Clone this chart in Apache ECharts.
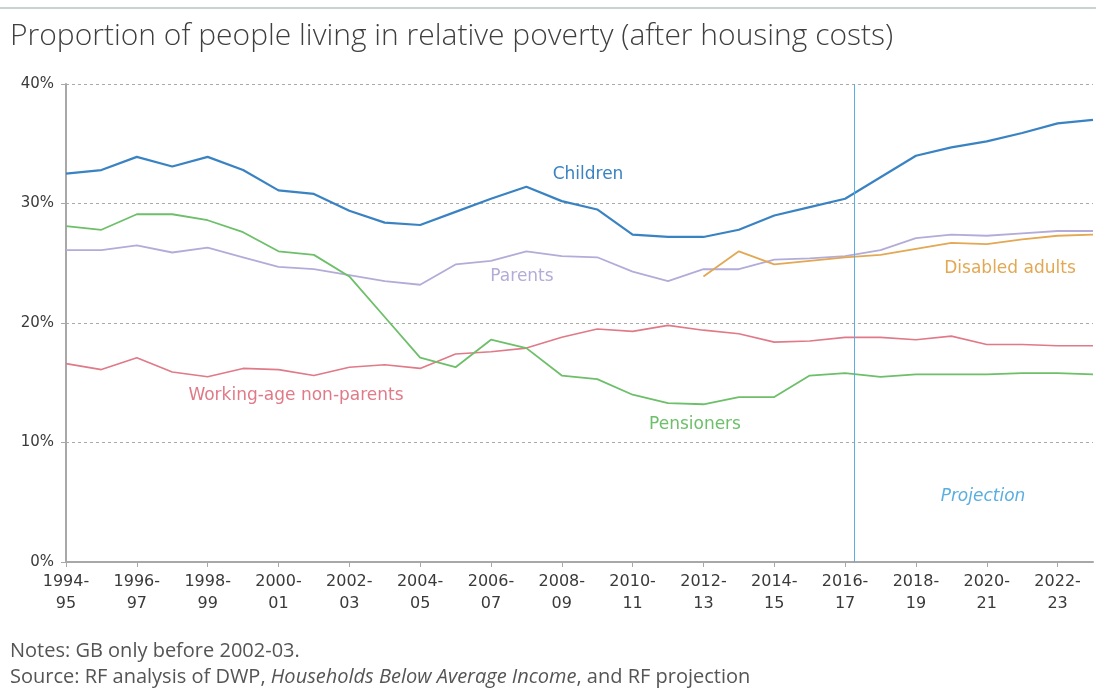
<!DOCTYPE html>
<html>
<head>
<meta charset="utf-8">
<script src="https://cdn.jsdelivr.net/npm/echarts@6/dist/echarts.min.js"></script>
<style>
html,body{margin:0;padding:0;background:#fff;}
#c{width:1096px;height:691px;}
</style>
</head>
<body>
<div id="c"></div>
<script>
const categories = ['1994-95','1995-96','1996-97','1997-98','1998-99','1999-00','2000-01','2001-02','2002-03','2003-04',
  '2004-05','2005-06','2006-07','2007-08','2008-09','2009-10','2010-11','2011-12','2012-13','2013-14',
  '2014-15','2015-16','2016-17','2017-18','2018-19','2019-20','2020-21','2021-22','2022-23','2023-24'];
const children = [32.5,32.8,33.9,33.1,33.9,32.8,31.1,30.8,29.4,28.4,28.2,29.3,30.4,31.4,30.2,29.5,27.4,27.2,27.2,27.8,29.0,29.7,30.4,32.2,34.0,34.7,35.2,35.9,36.7,37.0];
const parents = [26.1,26.1,26.5,25.9,26.3,25.5,24.7,24.5,24.0,23.5,23.2,24.9,25.2,26.0,25.6,25.5,24.3,23.5,24.5,24.5,25.3,25.4,25.6,26.1,27.1,27.4,27.3,27.5,27.7,27.7];
const pensioners = [28.1,27.8,29.1,29.1,28.6,27.6,26.0,25.7,23.9,20.5,17.1,16.3,18.6,17.9,15.6,15.3,14.0,13.3,13.2,13.8,13.8,15.6,15.8,15.5,15.7,15.7,15.7,15.8,15.8,15.7];
const workingAge = [16.6,16.1,17.1,15.9,15.5,16.2,16.1,15.6,16.3,16.5,16.2,17.4,17.6,17.9,18.8,19.5,19.3,19.8,19.4,19.1,18.4,18.5,18.8,18.8,18.6,18.9,18.2,18.2,18.1,18.1];
const disabled = [null,null,null,null,null,null,null,null,null,null,null,null,null,null,null,null,null,null,23.9,26.0,24.9,25.2,25.5,25.7,26.2,26.7,26.6,27.0,27.3,27.4];
const yTicks = [0,10,20,30,40];
const projectionStart = 22.25; // position on category index scale (between 2016-17 and 2017-18)

const colors = {
  children:'#3a83c3', parents:'#b3acd9', pensioners:'#6dbf69', working:'#e07a88', disabled:'#e2a853', proj:'#5aaee0'
};
const labelFont = 'DejaVu Sans';

const chart = echarts.init(document.getElementById('c'));
const lineSeries = (name, data, color, w) => ({
  name, type:'line', data, xAxisIndex:0, yAxisIndex:0, symbol:'none', smooth:false,
  lineStyle:{color, width:w}, itemStyle:{color}, connectNulls:false, z:3
});
const seriesLabel = (text, x, y, color, italic) => ({
  type:'text', x, y, z:10,
  style:{text, fill:color, fontFamily:labelFont, fontSize:17, fontStyle: italic ? 'italic' : 'normal', align:'center', verticalAlign:'middle'}
});
chart.setOption({
  animation:false,
  backgroundColor:'#fff',
  grid:{left:66, right:3, top:84, bottom:129, containLabel:false},
  xAxis:[{
    type:'category', data:categories, boundaryGap:false,
    axisLine:{show:true, lineStyle:{color:'#a8a8a8', width:2}},
    axisTick:{show:true, interval:1, length:5, lineStyle:{color:'#a8a8a8'}},
    axisLabel:{interval:1, color:'#3a3a3a', fontSize:16, fontFamily:labelFont, lineHeight:22, margin:9,
      formatter:v=>v.slice(0,5)+'\n'+v.slice(5)},
    splitLine:{show:false}
  },{
    type:'value', min:0, max:categories.length-1, show:false
  }],
  yAxis:{
    type:'value', min:yTicks[0], max:yTicks[yTicks.length-1], interval:10,
    axisLine:{show:true, lineStyle:{color:'#a8a8a8', width:2}},
    axisTick:{show:true, length:5, lineStyle:{color:'#a8a8a8'}},
    axisLabel:{formatter:'{value}%', color:'#3a3a3a', fontSize:15, fontFamily:labelFont, margin:12},
    splitLine:{show:true, lineStyle:{color:'#aaaaaa', type:[3,3], width:1}}
  },
  series:[
    lineSeries('Working-age non-parents', workingAge, colors.working, 1.6),
    lineSeries('Parents', parents, colors.parents, 1.8),
    lineSeries('Pensioners', pensioners, colors.pensioners, 1.8),
    lineSeries('Disabled adults', disabled, colors.disabled, 1.8),
    lineSeries('Children', children, colors.children, 2.2),
    {
      type:'line', xAxisIndex:1, yAxisIndex:0, data:[], silent:true,
      markLine:{symbol:'none', silent:true, label:{show:false},
        lineStyle:{color:colors.proj, width:1, type:'solid'},
        data:[{xAxis:projectionStart}]}
    }
  ],
  graphic:[
    {type:'line', shape:{x1:0,y1:8,x2:1096,y2:8}, style:{stroke:'#c9d3cf', lineWidth:2}},
    {type:'text', left:10, top:21, style:{text:'Proportion of people living in relative poverty (after housing costs)', fill:'#3f3f3f', fontFamily:'Open Sans', fontWeight:300, fontSize:30}},
    seriesLabel('Children', 588, 175, colors.children),
    seriesLabel('Parents', 522, 277, colors.parents),
    seriesLabel('Working-age non-parents', 296, 396, colors.working),
    seriesLabel('Pensioners', 695, 425, colors.pensioners),
    seriesLabel('Disabled adults', 1010, 269, colors.disabled),
    seriesLabel('Projection', 983, 497, colors.proj, true),
    {type:'text', left:10, top:641, style:{text:'Notes: GB only before 2002-03.', fill:'#555', fontFamily:'Open Sans', fontSize:20}},
    {type:'text', left:10, top:667, style:{
      text:'{a|Source: RF analysis of DWP, }{b|Households Below Average Income}{a|, and RF projection}',
      rich:{a:{fill:'#555', fontFamily:'Open Sans', fontSize:20}, b:{fill:'#555', fontFamily:'Open Sans', fontSize:20, fontStyle:'italic'}}
    }}
  ]
});
</script>
</body>
</html>
